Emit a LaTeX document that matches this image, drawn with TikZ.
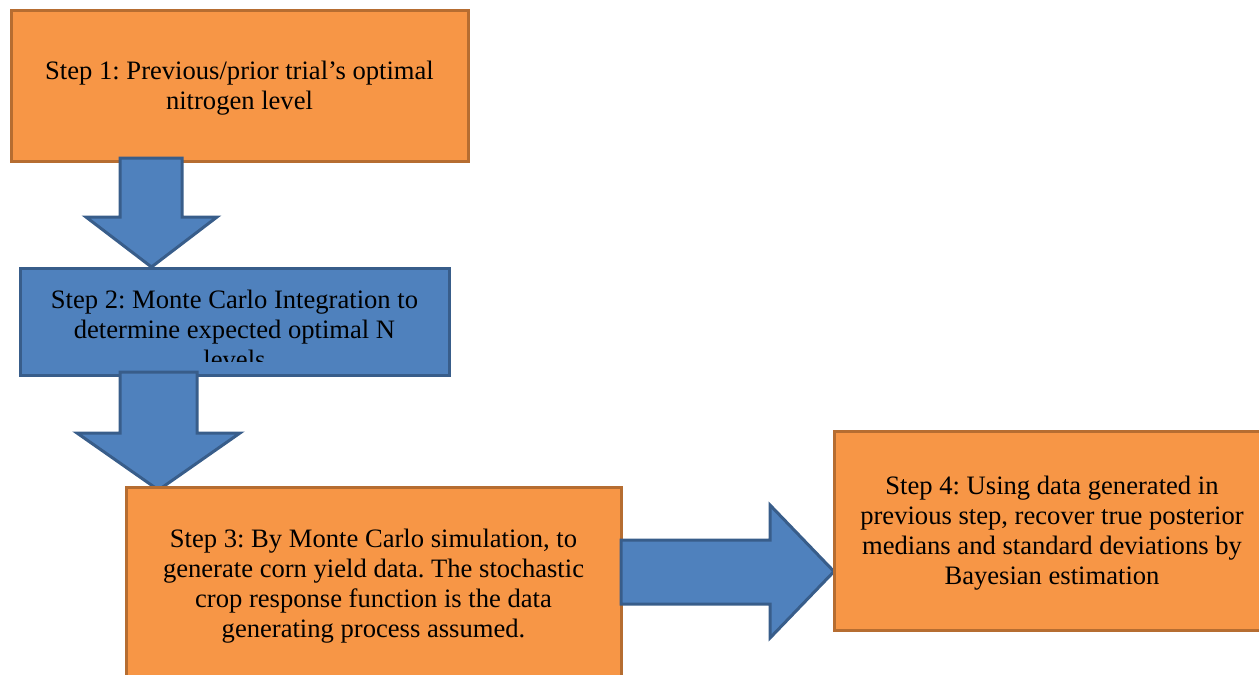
\documentclass[tikz,border=0pt]{standalone}
\usepackage{fontspec}
\setmainfont{Liberation Serif}
\frenchspacing
\usetikzlibrary{positioning}
\definecolor{stepOrange}{HTML}{F79646}
\definecolor{stepOrangeLine}{HTML}{B66D31}
\definecolor{stepBlue}{HTML}{4F81BD}
\definecolor{stepBlueLine}{HTML}{385D8A}

\begin{document}
\begin{tikzpicture}[x=1pt,y=-1pt,
    stepbox/.style={rectangle,draw=stepOrangeLine,fill=stepOrange,line width=3pt,inner sep=0pt},
    bluebox/.style={stepbox,draw=stepBlueLine,fill=stepBlue},
    steptext/.style={inner sep=0pt,align=center,font=\fontsize{26.6}{30}\selectfont},
    blockarrow/.style={draw=stepBlueLine,fill=stepBlue,line width=3pt,line join=miter}]

    \clip (0,0) rectangle (1259,675);

    \node [stepbox,minimum width=457pt,minimum height=151pt] (Step1) at (239.5,85.5) {};
    \node [steptext] (Step1txt) at (239.5,88.5)
        {Step 1: Previous/prior trial’s optimal\\nitrogen level};
    \draw [blockarrow] (120,158) -- (182,158) -- (182,217) -- (217,217) -- (151.5,267)
        -- (86,217) -- (120,217) -- cycle;

    \node [bluebox,minimum width=429pt,minimum height=107pt] (Step2) at (234.5,321.5) {};
    \begin{scope}
        \clip (Step2.north west) rectangle (449,361);
        \node [steptext] (Step2txt) at (234.5,329.5)
            {Step 2: Monte Carlo Integration to\\determine expected optimal N\\levels};
    \end{scope}
    \draw [blockarrow] (120,372) -- (197,372) -- (197,433) -- (240,433) -- (158.5,490)
        -- (77,433) -- (120,433) -- cycle;

    \node [stepbox,minimum width=495pt,minimum height=194pt] (Step3) at (373.5,584) {};
    \node [steptext] (Step3txt) at (373.5,586)
        {Step 3: By Monte Carlo simulation, to\\generate corn yield data. The stochastic\\crop response function is the data\\generating process assumed.};
    \draw [blockarrow] (621,540) -- (770,540) -- (770,505) -- (834,571.5) -- (770,638)
        -- (770,604) -- (621,604) -- cycle;

    \node [stepbox,minimum width=436pt,minimum height=199pt] (Step4) at (1052,530.5) {};
    \node [steptext] (Step4txt) at (1052,533.5)
        {Step 4: Using data generated in\\previous step, recover true posterior\\medians and standard deviations by\\Bayesian estimation};
\end{tikzpicture}
\end{document}
